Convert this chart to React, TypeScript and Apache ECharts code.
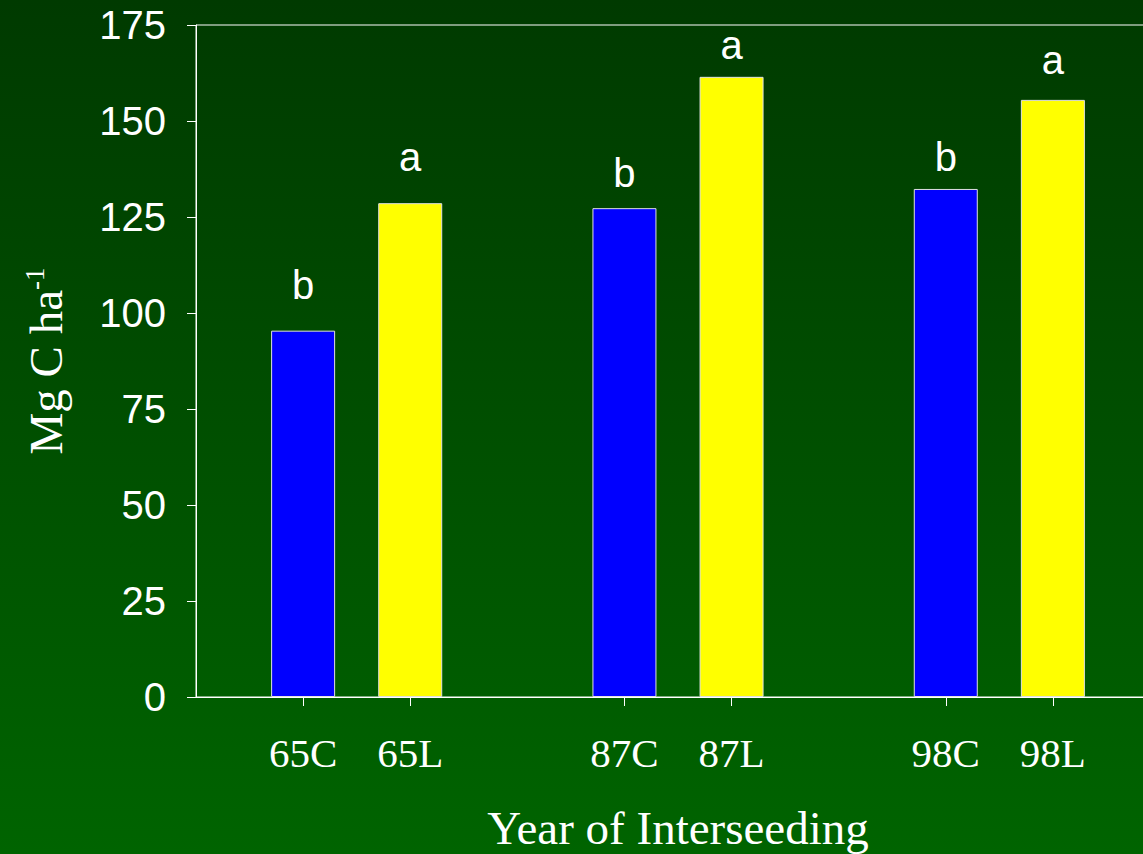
import React, { useEffect, useRef } from "react";
import * as echarts from "echarts";

const categories = ["", "65C", "65L", "", "87C", "87L", "", "98C", "98L", ""];
const values: (number | null)[] = [null, 95.4, 128.6, null, 127.3, 161.5, null, 132.3, 155.5, null];
const letters = ["", "b", "a", "", "b", "a", "", "b", "a", ""];
const yTicks = [0, 25, 50, 75, 100, 125, 150, 175];

// styling (not data): bar colours and letter offsets above bars
const barColors = ["", "#0000ff", "#ffff00", "", "#0000ff", "#ffff00", "", "#0000ff", "#ffff00", ""];
const labelGaps = [0, 26, 26, 0, 15, 12, 0, 12, 20, 0];

export default function App() {
  const ref = useRef<HTMLDivElement>(null);
  useEffect(() => {
    document.body.style.margin = "0";
    const chart = echarts.init(ref.current!, null, { renderer: "svg" });
    const serif = "'Liberation Serif', 'Times New Roman', serif";
    const sans = "'Liberation Sans', Arial, sans-serif";
    chart.setOption({
      animation: false,
      backgroundColor: "transparent",
      grid: {
        left: 196,
        width: 964,
        top: 25,
        height: 672,
        outerBoundsMode: "none",
        containLabel: false,
        show: true,
        borderColor: "#ffffff",
        borderWidth: 1,
        backgroundColor: "transparent",
      },
      xAxis: {
        type: "category",
        data: categories,
        boundaryGap: false,
        axisLine: { lineStyle: { color: "#ffffff", width: 1 } },
        axisTick: {
          length: 9,
          interval: (i: number, v: string) => v !== "",
          lineStyle: { color: "#ffffff" },
        },
        axisLabel: {
          interval: 0,
          color: "#ffffff",
          fontFamily: serif,
          fontSize: 41,
          margin: 35,
        },
        splitLine: { show: false },
        name: "Year of Interseeding",
        nameLocation: "middle",
        nameGap: 107,
        nameTextStyle: { color: "#ffffff", fontFamily: serif, fontSize: 47 },
      },
      yAxis: {
        type: "value",
        min: yTicks[0],
        max: yTicks[yTicks.length - 1],
        interval: 25,
        axisLine: { show: true, lineStyle: { color: "#ffffff", width: 1 } },
        axisTick: { show: true, length: 9, lineStyle: { color: "#ffffff" } },
        axisLabel: {
          color: "#ffffff",
          fontFamily: sans,
          fontSize: 40,
          margin: 30,
        },
        splitLine: { show: false },
        name: "{n|Mg C ha}{s|-1}",
        nameLocation: "middle",
        nameGap: 125,
        nameTextStyle: {
          color: "#ffffff",
          fontFamily: serif,
          rich: {
            n: { fontSize: 47, fontFamily: serif, color: "#ffffff", lineHeight: 50 },
            s: { fontSize: 27, fontFamily: serif, color: "#ffffff", verticalAlign: "top", lineHeight: 30 },
          },
        },
      },
      series: [
        {
          type: "bar",
          barWidth: 64,
          data: values.map((v, i) => ({
            value: v,
            itemStyle: { color: barColors[i] || "#0000ff", borderColor: "#e0e0e0", borderWidth: 1 },
            label: { distance: labelGaps[i] },
          })),
          label: {
            show: true,
            position: "top",
            distance: 14,
            color: "#ffffff",
            fontFamily: sans,
            fontSize: 40,
            formatter: (p: any) => letters[p.dataIndex],
          },
        },
      ],
    });
    return () => chart.dispose();
  }, []);
  return (
    <div
      ref={ref}
      style={{
        position: "absolute",
        left: 0,
        top: 0,
        width: 1143,
        height: 854,
        background: "linear-gradient(to bottom, #003a00 0%, #006400 100%)",
      }}
    />
  );
}
